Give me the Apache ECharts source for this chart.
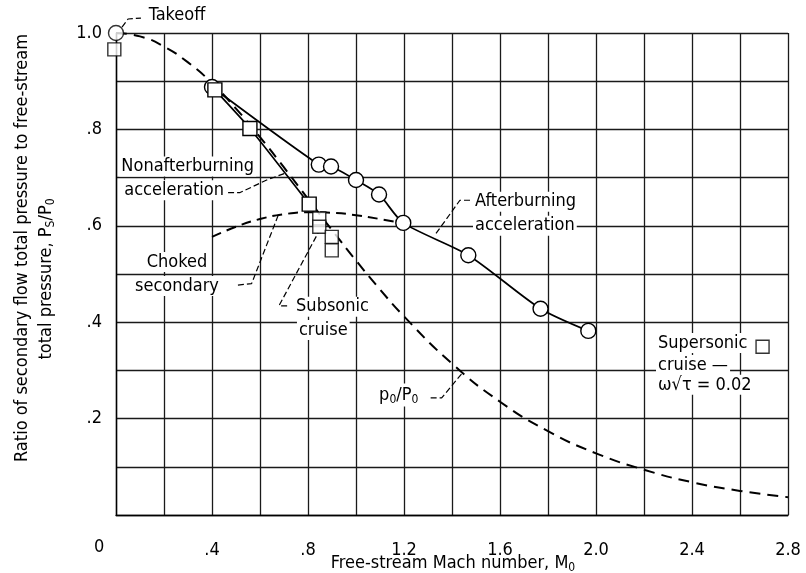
<!DOCTYPE html>
<html>
<head>
<meta charset="utf-8">
<script src="https://cdn.jsdelivr.net/npm/echarts@6/dist/echarts.min.js"></script>
<style>
  html, body { margin: 0; padding: 0; background: #fff; }
  #chart { width: 806px; height: 573px; }
</style>
</head>
<body>
<div id="chart"></div>
<script>
// p0/P0 reference curve (dashed)
const machP0 = [0, 0.1, 0.2, 0.3, 0.4, 0.5, 0.6, 0.7, 0.8, 0.9, 1.0, 1.1, 1.2, 1.4, 1.6, 1.8, 2.0, 2.2, 2.4, 2.6, 2.8];
const ratioP0 = [1.0, 0.993, 0.972, 0.939, 0.896, 0.843, 0.784, 0.721, 0.656, 0.591, 0.528, 0.468, 0.412, 0.314, 0.235, 0.174, 0.128, 0.094, 0.068, 0.050, 0.037];

// choked secondary (dash-dot)
const machChoked = [0.4, 0.5, 0.6, 0.7, 0.8, 0.9, 1.0, 1.1, 1.2];
const ratioChoked = [0.577, 0.598, 0.614, 0.624, 0.628, 0.627, 0.622, 0.614, 0.605];

// afterburning acceleration (circles)
const machAb = [0.40, 0.845, 0.896, 1.00, 1.096, 1.197, 1.468, 1.769, 1.968];
const ratioAb = [0.888, 0.727, 0.723, 0.695, 0.665, 0.606, 0.539, 0.428, 0.382];

// nonafterburning acceleration (squares)
const machNab = [0.412, 0.558, 0.805];
const ratioNab = [0.882, 0.802, 0.645];

// single points
const takeoffCircle = [0, 1.0];
const takeoffSquare = [-0.007, 0.966];
const machSubsonic = [0.847, 0.847, 0.899, 0.899];
const ratioSubsonic = [0.615, 0.598, 0.577, 0.549];
const supersonicCruise = [2.694, 0.349];

// axis ticks
const xTicks = [0.4, 0.8, 1.2, 1.6, 2.0, 2.4, 2.8];
const yTicks = [0.2, 0.4, 0.6, 0.8, 1.0];

const pair = (xs, ys) => xs.map((x, i) => [x, ys[i]]);
const font = "'DejaVu Sans Condensed', 'Liberation Sans Narrow', 'DejaVu Sans', sans-serif";
const ink = '#000';
const sub = { fontSize: 12, fontFamily: font, fill: ink, color: ink, padding: [9, 0, 0, 0] };

// annotation text, in data coordinates
const notes = [
  { at: [0.128, 1.037], text: 'Takeoff', align: 'left' },
  { at: [0.014, 0.723], text: 'Nonafterburning', align: 'left' },
  { at: [0.026, 0.674], text: 'acceleration', align: 'left' },
  { at: [1.4875, 0.650], text: 'Afterburning', align: 'left' },
  { at: [1.4875, 0.600], text: 'acceleration', align: 'left' },
  { at: [0.254, 0.525], text: 'Choked', align: 'center' },
  { at: [0.254, 0.475], text: 'secondary', align: 'center' },
  { at: [0.742, 0.432], text: 'Subsonic', align: 'left' },
  { at: [0.754, 0.384], text: 'cruise', align: 'left' },
  { at: [1.088, 0.249], text: 'p{s|0}/P{s|0}', align: 'left' },
  { at: [2.25, 0.357], text: 'Supersonic', align: 'left' },
  { at: [2.25, 0.311], text: 'cruise —', align: 'left' },
  { at: [2.25, 0.270], text: 'ω√τ = 0.02', align: 'left' }
];

// leader lines
const leaders = [
  [[0.025, 1.012], [0.05, 1.029], [0.104, 1.031]],
  [[0.467, 0.669], [0.517, 0.669], [0.628, 0.695], [0.704, 0.709]],
  [[1.475, 0.653], [1.433, 0.653], [1.329, 0.581]],
  [[0.508, 0.477], [0.565, 0.48], [0.676, 0.622]],
  [[0.713, 0.434], [0.679, 0.434], [0.842, 0.585]],
  [[1.311, 0.243], [1.357, 0.243], [1.447, 0.297]]
];

const fmt = v => {
  const t = Math.round(v * 10);
  if (t === 0) return '';
  const s = (t / 10).toFixed(1);
  return t < 10 ? s.slice(1) : s;
};

const markerStyle = { color: '#fff', borderColor: ink, borderWidth: 1.4 };

const series = [
  {
    type: 'line', data: pair(machP0, ratioP0), smooth: true, symbol: 'none',
    lineStyle: { color: ink, width: 2, type: [11, 7] }, z: 2
  },
  {
    type: 'line', data: pair(machChoked, ratioChoked), smooth: true, symbol: 'none',
    lineStyle: { color: ink, width: 2, type: [10, 6] }, z: 2
  },
  {
    type: 'line', data: pair(machNab, ratioNab), smooth: 0.2, symbol: 'rect', symbolSize: 14,
    lineStyle: { color: ink, width: 1.7 }, itemStyle: markerStyle, z: 4
  },
  {
    type: 'line', data: pair(machAb, ratioAb), smooth: 0.25, symbol: 'circle', symbolSize: 15,
    lineStyle: { color: ink, width: 1.7 }, itemStyle: markerStyle, z: 3
  },
  {
    type: 'scatter', data: [takeoffSquare], symbol: 'rect', symbolSize: 13, clip: false,
    itemStyle: markerStyle, z: 4
  },
  {
    type: 'scatter', data: [takeoffCircle], symbol: 'circle', symbolSize: 15, clip: false,
    itemStyle: markerStyle, z: 5
  },
  {
    type: 'scatter', data: pair(machSubsonic, ratioSubsonic), symbol: 'rect', symbolSize: 13,
    itemStyle: markerStyle, z: 4
  },
  {
    type: 'scatter', data: [supersonicCruise], symbol: 'rect', symbolSize: 13,
    itemStyle: markerStyle, z: 4
  }
];

leaders.forEach(pts => {
  series.push({
    type: 'line', data: pts, symbol: 'none', clip: false, silent: true,
    lineStyle: { color: ink, width: 1.2, type: [6, 3] }, z: 2
  });
});

const chart = echarts.init(document.getElementById('chart'));
chart.setOption({
  animation: false,
  backgroundColor: '#fff',
  grid: { left: 116, right: 18, top: 33, bottom: 58, outerBoundsMode: 'none' },
  xAxis: {
    type: 'value', min: 0, max: 2.8, interval: 0.2,
    axisLine: { show: true, lineStyle: { color: ink, width: 1.4 } },
    axisTick: { show: false },
    axisLabel: {
      margin: 26, fontSize: 18, fontFamily: font, color: ink,
      formatter: v => xTicks.some(t => Math.abs(t - v) < 1e-6) ? fmt(v) : ''
    },
    splitLine: { show: true, lineStyle: { color: '#1a1a1a', width: 1.3 } }
  },
  yAxis: {
    type: 'value', min: 0, max: 1.0, interval: 0.1,
    axisLine: { show: true, lineStyle: { color: ink, width: 1.4 } },
    axisTick: { show: false },
    axisLabel: {
      margin: 14, fontSize: 18, fontFamily: font, color: ink,
      formatter: v => yTicks.some(t => Math.abs(t - v) < 1e-6) ? fmt(v) : ''
    },
    splitLine: { show: true, lineStyle: { color: '#1a1a1a', width: 1.3 } }
  },
  series: series
});

// texts placed from data coordinates through the grid
const graphics = notes.map(n => {
  const p = chart.convertToPixel({ gridIndex: 0 }, n.at);
  return {
    type: 'text', x: p[0], y: p[1], z: 100,
    style: {
      text: n.text, fontSize: 18, fontFamily: font, fill: ink,
      align: n.align, verticalAlign: 'middle',
      backgroundColor: '#fff', padding: [1, 2], rich: { s: sub }
    }
  };
});
graphics.push(
  { type: 'text', x: 94, y: 538, style: { text: '0', fontSize: 18, fontFamily: font, fill: ink } },
  {
    type: 'text', x: 453, y: 563,
    style: { text: 'Free-stream Mach number, M{s|0}', fontSize: 18, fontFamily: font, fill: ink, align: 'center', verticalAlign: 'middle', rich: { s: sub } }
  },
  {
    type: 'text', x: 22, y: 248, rotation: Math.PI / 2,
    style: { text: 'Ratio of secondary flow total pressure to free-stream', fontSize: 18, fontFamily: font, fill: ink, align: 'center', verticalAlign: 'middle' }
  },
  {
    type: 'text', x: 46, y: 279, rotation: Math.PI / 2,
    style: { text: 'total pressure, P{s|S}/P{s|0}', fontSize: 18, fontFamily: font, fill: ink, align: 'center', verticalAlign: 'middle', rich: { s: sub } }
  }
);
chart.setOption({ graphic: graphics });
</script>
</body>
</html>
